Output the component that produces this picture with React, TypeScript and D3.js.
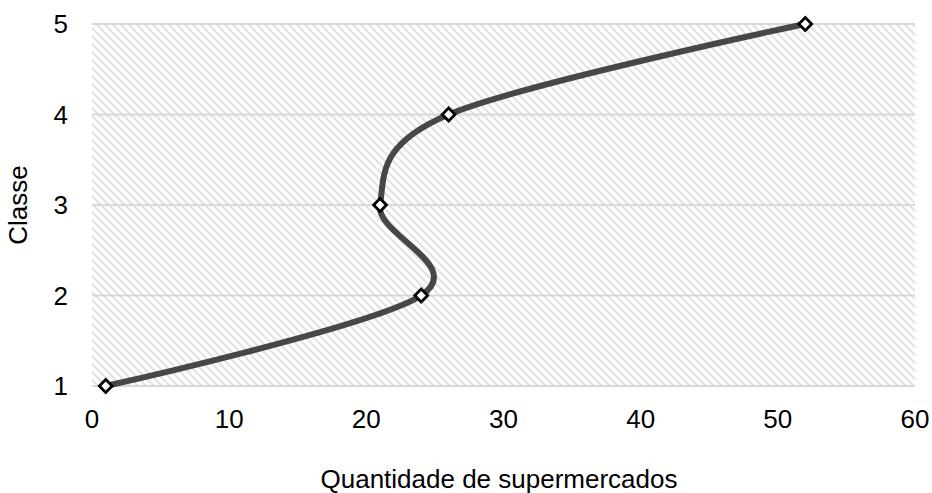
import React, { useEffect, useRef } from "react";
import * as d3 from "d3";

const quantities = [1, 24, 21, 26, 52];
const classes = [1, 2, 3, 4, 5];
const xTicks = [0, 10, 20, 30, 40, 50, 60];
const yTicks = [1, 2, 3, 4, 5];
const xTitle = "Quantidade de supermercados";
const yTitle = "Classe";

export default function App() {
  const ref = useRef<SVGSVGElement>(null);
  useEffect(() => {
    const svg = d3.select(ref.current);
    svg.selectAll("*").remove();
    const left = 92, right = 915, top = 24, bottom = 386;
    const x = d3.scaleLinear().domain([0, 60]).range([left, right]);
    const y = d3.scaleLinear().domain([1, 5]).range([bottom, top]);
    const font = "'Liberation Sans', Arial, sans-serif";
    const fs = 26;

    const defs = svg.append("defs");
    const pat = defs.append("pattern").attr("id", "hatch").attr("patternUnits", "userSpaceOnUse")
      .attr("width", 8).attr("height", 8);
    pat.append("rect").attr("width", 8).attr("height", 8).attr("fill", "#ffffff");
    pat.append("path").attr("d", "M-2,-2 L10,10 M-2,6 L2,10 M6,-2 L10,2")
      .attr("stroke", "#e2e2e2").attr("stroke-width", 2);

    svg.append("rect").attr("x", left).attr("y", top).attr("width", right - left).attr("height", bottom - top)
      .attr("fill", "url(#hatch)");

    svg.append("g").selectAll("line").data(yTicks).join("line")
      .attr("x1", left).attr("x2", right).attr("y1", d => y(d)).attr("y2", d => y(d))
      .attr("stroke", "#d9d9d9").attr("stroke-width", 2);

    svg.append("g").selectAll("text").data(yTicks).join("text")
      .attr("x", 68).attr("y", d => y(d)).attr("dy", "0.36em").attr("text-anchor", "end")
      .attr("font-family", font).attr("font-size", fs).attr("fill", "#000").text(d => d);

    svg.append("g").selectAll("text").data(xTicks).join("text")
      .attr("x", d => x(d)).attr("y", 428).attr("text-anchor", "middle")
      .attr("font-family", font).attr("font-size", fs).attr("fill", "#000").text(d => d);

    svg.append("text").attr("x", 499).attr("y", 488).attr("text-anchor", "middle")
      .attr("font-family", font).attr("font-size", fs).attr("fill", "#000").text(xTitle);

    svg.append("text").attr("transform", `translate(27,${205}) rotate(-90)`)
      .attr("text-anchor", "middle").attr("font-family", font).attr("font-size", fs).attr("fill", "#000").text(yTitle);

    const pts = quantities.map((q, i) => [x(q), y(classes[i])] as [number, number]);
    const line = d3.line().curve(d3.curveCardinal.tension(0));
    svg.append("path").attr("d", line(pts)).attr("fill", "none").attr("stroke", "#474747")
      .attr("stroke-width", 6).attr("stroke-linecap", "round");

    svg.append("g").selectAll("path").data(pts).join("path")
      .attr("transform", d => `translate(${d[0]},${d[1]}) rotate(45)`)
      .attr("d", d3.symbol().type(d3.symbolSquare).size(82)())
      .attr("fill", "#fff").attr("stroke", "#000").attr("stroke-width", 2.8);
  }, []);
  return <svg ref={ref} width={932} height={493} style={{ display: "block", position: "absolute", left: 0, top: 0 }} />;
}
